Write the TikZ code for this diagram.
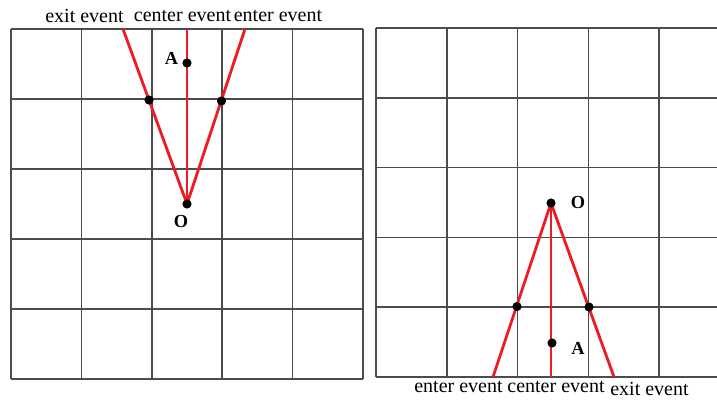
\documentclass[tikz,border=0pt]{standalone}
\usepackage{fontspec}
\setmainfont{Liberation Serif}
\usetikzlibrary{positioning}
\definecolor{evred}{RGB}{237,28,36}

\begin{document}
\begin{tikzpicture}[x=0.6pt,y=-0.6pt,
  gridline/.style={black!70, line width=1pt},
  evline/.style={evred, line width=1.7pt},
  dot/.style={circle, fill=black, inner sep=0pt, minimum size=5.5pt},
  evlabel/.style={font=\fontsize{12}{14}\selectfont, inner sep=0pt},
  ptlabel/.style={font=\fontsize{11}{13}\selectfont\bfseries, inner sep=0pt}]
\useasboundingbox (0,0) rectangle (717,399);

% Left grid
\foreach \x in {0,...,5} \draw[gridline] (11+70.4*\x,29) -- (11+70.4*\x,379);
\foreach \y in {0,...,5} \draw[gridline] (11,29+70*\y) -- (363,29+70*\y);

% Right grid
\foreach \x in {0,...,4} \draw[gridline] (376+70.8*\x,28) -- (376+70.8*\x,377);
\foreach \y in {0,...,5} \draw[gridline] (376,28+69.8*\y) -- (717,28+69.8*\y);

% Left: events above O
\coordinate (O1) at (187,204);
\coordinate (A1) at (187,63);
\coordinate (exitTop) at (123,29);
\coordinate (centerTop) at (187,29);
\coordinate (enterTop) at (245,29);
\coordinate (exitCross) at (149,100);
\coordinate (enterCross) at (221.5,101);
\draw[evline] (O1) -- (exitTop);
\draw[evline] (O1) -- (centerTop);
\draw[evline] (O1) -- (enterTop);
\node[dot] (dO1) at (O1) {};
\node[dot] (dA1) at (A1) {};
\node[dot] (dExit1) at (exitCross) {};
\node[dot] (dEnter1) at (enterCross) {};

% Right: events below O
\coordinate (O2) at (551,203);
\coordinate (A2) at (552,343);
\coordinate (enterBot) at (493,377);
\coordinate (centerBot) at (551,377);
\coordinate (exitBot) at (614,377);
\coordinate (enterCross2) at (517,306.5);
\coordinate (exitCross2) at (589,307);
\draw[evline] (O2) -- (enterBot);
\draw[evline] (O2) -- (centerBot);
\draw[evline] (O2) -- (exitBot);
\node[dot] (dO2) at (O2) {};
\node[dot] (dA2) at (A2) {};
\node[dot] (dEnter2) at (enterCross2) {};
\node[dot] (dExit2) at (exitCross2) {};

% Labels
\node[evlabel] (exitLbl1) at (84.5,16) {exit event};
\node[evlabel] (centerLbl1) at (182.5,16) {center event};
\node[evlabel] (enterLbl1) at (278,16) {enter event};
\node[evlabel] (enterLbl2) at (458.5,387) {enter event};
\node[evlabel] (centerLbl2) at (556,387) {center event};
\node[evlabel] (exitLbl2) at (649.5,389) {exit event};
\node[ptlabel] (aLbl1) at (171.5,58) {A};
\node[ptlabel] (oLbl1) at (181,222) {O};
\node[ptlabel] (oLbl2) at (578,203) {O};
\node[ptlabel] (aLbl2) at (578,348) {A};
\end{tikzpicture}
\end{document}
